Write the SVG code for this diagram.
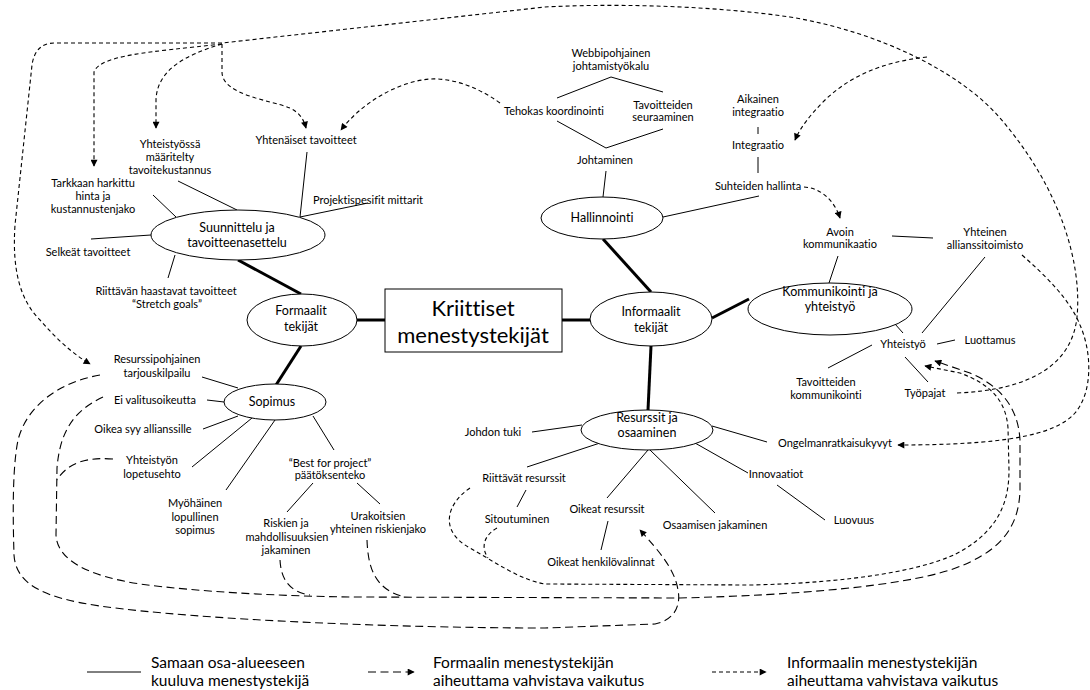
<svg xmlns="http://www.w3.org/2000/svg" width="1090" height="690" viewBox="0 0 1090 690">
<style>
text{font-family:Lato,"Liberation Sans",sans-serif;fill:#000;text-anchor:middle;font-variant-ligatures:none;font-feature-settings:"liga" 0,"clig" 0}
.t{font-size:11px}
.n{font-size:12.5px}
.b{font-size:22px}
.lg{font-size:15.5px;text-anchor:start}
.s{stroke:#000;stroke-width:1;fill:none}
.k{stroke:#000;stroke-width:3;fill:none}
.e{stroke:#000;stroke-width:1;fill:#fff}
.f{stroke:#000;stroke-width:1.1;fill:none;stroke-dasharray:8 4.5}
.i{stroke:#000;stroke-width:1.1;fill:none;stroke-dasharray:4 3}
.a{marker-end:url(#ah)}
</style>
<defs>
<marker id="ah" viewBox="0 0 10 10" refX="9" refY="5" markerWidth="8" markerHeight="7" orient="auto" markerUnits="userSpaceOnUse"><path d="M0,0 L10,5 L0,10 z" fill="#000"/></marker>
</defs>
<rect width="1090" height="690" fill="#fff"/>

<g id="connectors">
<!-- thick -->
<line class="k" x1="238" y1="260" x2="301" y2="294"/>
<line class="k" x1="357" y1="320" x2="385" y2="320"/>
<line class="k" x1="301" y1="346" x2="276" y2="385"/>
<line class="k" x1="562" y1="320" x2="590" y2="320"/>
<line class="k" x1="603" y1="239" x2="651" y2="292"/>
<line class="k" x1="712" y1="318" x2="749" y2="299"/>
<line class="k" x1="651" y1="346" x2="648" y2="410"/>
<!-- thin -->
<polyline class="s" points="557,98 611,77 663,92"/>
<polyline class="s" points="557,121 606,148 663,129"/>
<line class="s" x1="606" y1="171" x2="603" y2="197"/>
<line class="s" x1="663" y1="217" x2="759" y2="196"/>
<line class="s" x1="758" y1="127" x2="758" y2="134"/>
<line class="s" x1="758" y1="157" x2="758" y2="173"/>
<line class="s" x1="307" y1="152" x2="300" y2="217"/>
<line class="s" x1="368" y1="203" x2="300" y2="217"/>
<line class="s" x1="178" y1="181" x2="237" y2="210"/>
<line class="s" x1="153" y1="195" x2="176" y2="217"/>
<line class="s" x1="91" y1="239" x2="151" y2="235"/>
<line class="s" x1="175" y1="255" x2="168" y2="278"/>
<line class="s" x1="892" y1="236" x2="933" y2="238"/>
<line class="s" x1="838" y1="256" x2="829" y2="283"/>
<line class="s" x1="887" y1="315" x2="903" y2="333"/>
<line class="s" x1="922" y1="333" x2="985" y2="257"/>
<line class="s" x1="937" y1="344" x2="955" y2="340"/>
<line class="s" x1="872" y1="345" x2="828" y2="368"/>
<line class="s" x1="905" y1="357" x2="928" y2="382"/>
<line class="s" x1="532" y1="432" x2="582" y2="425"/>
<line class="s" x1="600" y1="443" x2="527" y2="467"/>
<line class="s" x1="526" y1="490" x2="517" y2="507"/>
<line class="s" x1="648" y1="450" x2="607" y2="498"/>
<line class="s" x1="650" y1="450" x2="715" y2="513"/>
<line class="s" x1="695" y1="443" x2="748" y2="473"/>
<line class="s" x1="712" y1="426" x2="767" y2="442"/>
<line class="s" x1="777" y1="485" x2="825" y2="520"/>
<line class="s" x1="608" y1="521" x2="601" y2="550"/>
<line class="s" x1="202" y1="377" x2="238" y2="388"/>
<line class="s" x1="207" y1="400" x2="224" y2="402"/>
<line class="s" x1="203" y1="429" x2="238" y2="416"/>
<line class="s" x1="192" y1="467" x2="252" y2="418"/>
<line class="s" x1="226" y1="490" x2="275" y2="420"/>
<line class="s" x1="313" y1="416" x2="334" y2="450"/>
<line class="s" x1="313" y1="483" x2="287" y2="512"/>
<line class="s" x1="357" y1="483" x2="380" y2="504"/>
<!-- informal dashed -->
<path class="i" d="M957,393 C1030,390 1072,365 1077,317 C1082,265 1062,190 1000,118 C960,72 880,32 790,17 C700,4 600,4 545,7 L222,43"/>
<path class="i a" d="M222,43 L55,43 C40,43 34,52 32,65 L15,225 C12,270 20,300 40,320 C55,337 70,352 90,364"/>
<path class="i a" d="M222,44 C150,52 100,55 94,72 L94,166"/>
<path class="i a" d="M222,44 C185,55 157,70 156,100 L156,128"/>
<path class="i a" d="M222,44 L222,72 C222,95 270,100 290,108 C300,113 304,120 306,128"/>
<path class="i a" d="M500,103 C475,85 450,78 430,79 C395,82 360,105 341,130"/>
<path class="i a" d="M927,57 C880,62 848,78 825,100 C810,115 800,128 795,140"/>
<path class="i a" d="M804,187 C822,188 835,202 840,218"/>
<path class="i a" d="M1022,255 C1048,278 1070,300 1080,325 C1092,352 1093,392 1075,413 C1055,436 1000,445 898,445"/>
<path class="i a" d="M470,488 C445,505 440,532 470,548 C495,562 520,580 545,584 L750,585 C850,583 930,570 963,550 C1000,528 1009,500 1009,470 L1008,428 C1006,400 990,384 960,373 L925,366"/>
<path class="i" d="M497,528 C485,535 480,546 488,558"/>
<!-- formal dashed -->
<path class="f a" d="M103,397 C75,410 60,430 57,468 L56,535 C57,560 88,576 140,584 C200,592 280,596 350,597 L680,598 C800,595 900,586 950,570 C1000,553 1019,528 1020,490 L1020,440 C1018,405 998,385 970,373 L935,361"/>
<path class="f" d="M113,459 C88,457 68,462 57,480"/>
<path class="f" d="M280,560 C281,580 290,592 310,595"/>
<path class="f" d="M367,540 C368,568 375,590 405,597"/>
<path class="f a" d="M100,375 C60,382 27,405 18,440 C12,470 13,520 14,555 C16,585 45,598 100,606 C200,620 400,628 545,628 L655,624 C675,620 681,605 678,590 C675,570 660,552 640,530"/>
</g>

<g id="kriittiset">
<rect x="385" y="289" width="177" height="63" fill="#fff" stroke="#000" stroke-width="1"/>
<text class="b" x="473" y="316">Kriittiset</text>
<text class="b" x="473" y="343">menestystekijät</text>
</g>
<g id="formaalit">
<ellipse class="e" cx="302" cy="320" rx="55" ry="26"/>
<text class="n" x="301" y="315">Formaalit</text>
<text class="n" x="301" y="331">tekijät</text>
</g>
<g id="informaalit">
<ellipse class="e" cx="651" cy="319" rx="61" ry="27"/>
<text class="n" x="651" y="316">Informaalit</text>
<text class="n" x="651" y="332">tekijät</text>
</g>
<g id="suunnittelu">
<ellipse class="e" cx="238" cy="235" rx="87" ry="25"/>
<text class="n" x="237" y="232">Suunnittelu ja</text>
<text class="n" x="237" y="247">tavoitteenasettelu</text>
</g>
<g id="sopimus">
<ellipse class="e" cx="275" cy="402" rx="51" ry="18"/>
<text class="n" x="272" y="406">Sopimus</text>
</g>
<g id="hallinnointi">
<ellipse class="e" cx="602" cy="218" rx="61" ry="21"/>
<text class="n" x="602" y="222">Hallinnointi</text>
</g>
<g id="kommunikointi">
<ellipse class="e" cx="830" cy="309" rx="82" ry="26"/>
<text class="n" x="830" y="296">Kommunikointi ja</text>
<text class="n" x="830" y="311">yhteistyö</text>
</g>
<g id="resurssit">
<ellipse class="e" cx="647" cy="430" rx="66" ry="20"/>
<text class="n" x="647" y="422">Resurssit ja</text>
<text class="n" x="647" y="437">osaaminen</text>
</g>

<g id="leaves">
<text class="t" x="611" y="57">Webbipohjainen</text>
<text class="t" x="611" y="70">johtamistyökalu</text>
<text class="t" x="554" y="115">Tehokas koordinointi</text>
<text class="t" x="663" y="109">Tavoitteiden</text>
<text class="t" x="663" y="121">seuraaminen</text>
<text class="t" x="605" y="164">Johtaminen</text>
<text class="t" x="758" y="103">Aikainen</text>
<text class="t" x="758" y="116">integraatio</text>
<text class="t" x="758" y="149">Integraatio</text>
<text class="t" x="758" y="190">Suhteiden hallinta</text>
<text class="t" x="306" y="144">Yhtenäiset tavoitteet</text>
<text class="t" x="170" y="148">Yhteistyössä</text>
<text class="t" x="170" y="161">määritelty</text>
<text class="t" x="170" y="174">tavoitekustannus</text>
<text class="t" x="93" y="187">Tarkkaan harkittu</text>
<text class="t" x="93" y="200">hinta ja</text>
<text class="t" x="93" y="213">kustannustenjako</text>
<text class="t" x="368" y="204">Projektispesifit mittarit</text>
<text class="t" x="88" y="256">Selkeät tavoitteet</text>
<text class="t" x="166" y="295">Riittävän haastavat tavoitteet</text>
<text class="t" x="167" y="308">“Stretch goals”</text>
<text class="t" x="840" y="236">Avoin</text>
<text class="t" x="840" y="248">kommunikaatio</text>
<text class="t" x="985" y="236">Yhteinen</text>
<text class="t" x="985" y="249">allianssitoimisto</text>
<text class="t" x="903" y="348">Yhteistyö</text>
<text class="t" x="990" y="344">Luottamus</text>
<text class="t" x="826" y="386">Tavoitteiden</text>
<text class="t" x="826" y="399">kommunikointi</text>
<text class="t" x="925" y="397">Työpajat</text>
<text class="t" x="835" y="447">Ongelmanratkaisukyvyt</text>
<text class="t" x="493" y="436">Johdon tuki</text>
<text class="t" x="524" y="482">Riittävät resurssit</text>
<text class="t" x="517" y="523">Sitoutuminen</text>
<text class="t" x="607" y="513">Oikeat resurssit</text>
<text class="t" x="715" y="529">Osaamisen jakaminen</text>
<text class="t" x="601" y="566">Oikeat henkilövalinnat</text>
<text class="t" x="776" y="478">Innovaatiot</text>
<text class="t" x="854" y="524">Luovuus</text>
<text class="t" x="157" y="363">Resurssipohjainen</text>
<text class="t" x="157" y="377">tarjouskilpailu</text>
<text class="t" x="155" y="404">Ei valitusoikeutta</text>
<text class="t" x="143" y="433">Oikea syy allianssille</text>
<text class="t" x="152" y="464">Yhteistyön</text>
<text class="t" x="152" y="478">lopetusehto</text>
<text class="t" x="195" y="507">Myöhäinen</text>
<text class="t" x="195" y="521">lopullinen</text>
<text class="t" x="195" y="534">sopimus</text>
<text class="t" x="330" y="467">“Best for project”</text>
<text class="t" x="330" y="479">päätöksenteko</text>
<text class="t" x="286" y="527">Riskien ja</text>
<text class="t" x="287" y="541">mahdollisuuksien</text>
<text class="t" x="286" y="554">jakaminen</text>
<text class="t" x="378" y="520">Urakoitsien</text>
<text class="t" x="378" y="533">yhteinen riskienjako</text>
</g>

<g id="legend">
<line class="s" x1="87" y1="672" x2="141" y2="672"/>
<text class="lg" x="151" y="668">Samaan osa-alueeseen</text>
<text class="lg" x="151" y="686">kuuluva menestystekijä</text>
<path class="f a" d="M368,672 L414,672"/>
<text class="lg" x="433" y="668">Formaalin menestystekijän</text>
<text class="lg" x="433" y="686">aiheuttama vahvistava vaikutus</text>
<path class="i a" d="M712,672 L766,672"/>
<text class="lg" x="787" y="668">Informaalin menestystekijän</text>
<text class="lg" x="787" y="686">aiheuttama vahvistava vaikutus</text>
</g>
</svg>
